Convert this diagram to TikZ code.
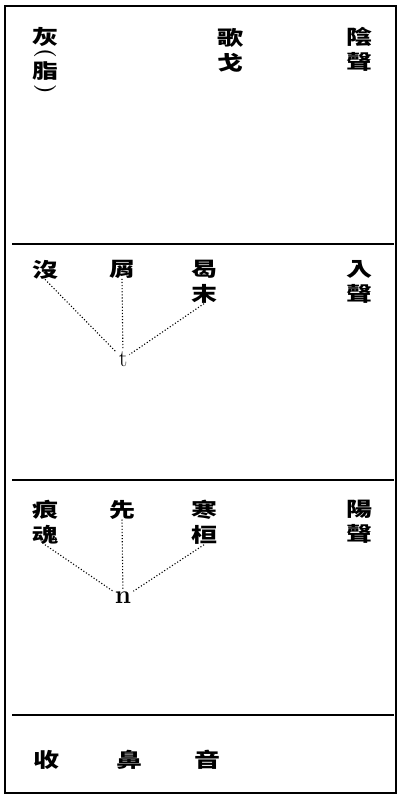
\documentclass[tikz,border=0pt]{standalone}
\usepackage{fontspec}
\newfontfamily\cjk[FakeStretch=1.3]{Noto Sans CJK TC}
\usetikzlibrary{positioning}

\tikzset{
  zi/.style={font=\cjk\bfseries\fontsize{20}{25}\selectfont, align=center, inner sep=0pt, anchor=north},
  kuo/.style={font=\bfseries\fontsize{22}{22}\selectfont, rotate=-90, inner sep=0pt},
  yinbiao/.style={font=\fontsize{24}{24}\selectfont, inner sep=2pt},
  lian/.style={dotted, line width=1.1pt},
  ge/.style={line width=1.4pt},
}

\begin{document}
\begin{tikzpicture}[x=1pt, y=-1pt]
      \useasboundingbox (0,0) rectangle (401,798);
      % frame and rows
      \draw[line width=1.2pt] (5,6) rectangle (396,793);
      \draw[ge] (12,244) -- (394,244);
      \draw[ge] (12,480) -- (394,480);
      \draw[ge] (12,715) -- (394,715);

      % yin sheng
      \node[zi] (hui) at (45,27) {灰};
      \node[kuo] (kuo1) at (45,53) {(};
      \node[zi] (zhi) at (45,61) {脂};
      \node[kuo] (kuo2) at (45,89) {)};
      \node[zi] (gege) at (230,28) {歌\\戈};
      \node[zi] (yinsheng) at (359,27) {陰\\聲};

      % ru sheng
      \node[zi] (mo) at (45,260) {沒};
      \node[zi] (xie) at (122,260) {屑};
      \node[zi] (hemo) at (204,260) {曷\\末};
      \node[zi] (rusheng) at (359,260) {入\\聲};
      \node[yinbiao] (t) at (123,359) {t};
      \draw[lian] (mo.south) -- (t);
      \draw[lian] (xie.south) -- (t);
      \draw[lian] (hemo.south) -- (t);

      % yang sheng
      \node[zi] (henhun) at (45,500) {痕\\魂};
      \node[zi] (xian) at (122,500) {先};
      \node[zi] (hanhuan) at (204,500) {寒\\桓};
      \node[zi] (yangsheng) at (359,500) {陽\\聲};
      \node[yinbiao, font=\bfseries\fontsize{26}{26}\selectfont] (n) at (123,598) {n};
      \draw[lian] (henhun.south) -- (n);
      \draw[lian] (xian.south) -- (n);
      \draw[lian] (hanhuan.south) -- (n);

      % shou bi yin
      \node[zi] (shou) at (47,750) {收};
      \node[zi, right=56pt of shou.north east, anchor=north west] (bi) {鼻};
      \node[zi, right=52pt of bi.north east, anchor=north west] (yinzi) {音};
\end{tikzpicture}
\end{document}
